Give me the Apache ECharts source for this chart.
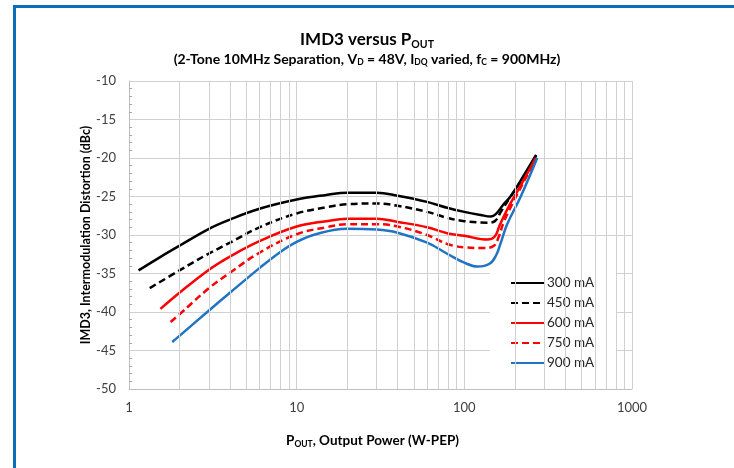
<!DOCTYPE html>
<html>
<head>
<meta charset="utf-8">
<script src="https://cdn.jsdelivr.net/npm/echarts@6/dist/echarts.min.js"></script>
<style>
  html, body { margin: 0; padding: 0; background: #fff; }
  #chart { width: 734px; height: 468px; }
</style>
</head>
<body>
<div id="chart"></div>
<script>
// IMD3 (dBc) against output power (W-PEP) for five quiescent currents
const seriesNames = ['300 mA', '450 mA', '600 mA', '750 mA', '900 mA'];

const imd300 = [[1.14,-34.6],[1.5,-33.0],[2,-31.4],[3,-29.2],[4,-28.0],[6,-26.6],[10,-25.4],[15,-24.8],[20,-24.5],[30,-24.5],[40,-24.9],[60,-25.7],[80,-26.5],[100,-27.0],[125,-27.4],[144,-27.6],[154,-27.3],[170,-26.1],[190,-24.9],[230,-22.0],[268,-19.6]];
const imd450 = [[1.33,-36.9],[2,-34.6],[3,-32.4],[4,-31.0],[6,-29.0],[10,-27.2],[15,-26.4],[20,-26.0],[30,-25.9],[40,-26.2],[60,-27.0],[80,-27.8],[100,-28.2],[137,-28.4],[152,-28.2],[165,-27.0],[185,-25.3],[230,-22.2],[268,-19.7]];
const imd600 = [[1.54,-39.6],[2,-37.5],[3,-34.5],[4,-32.8],[6,-30.8],[10,-28.9],[15,-28.2],[20,-27.9],[30,-27.9],[40,-28.3],[60,-29.0],[80,-29.8],[100,-30.1],[137,-30.6],[152,-30.2],[162,-28.8],[180,-26.7],[205,-24.5],[235,-22.2],[266,-20.0]];
const imd750 = [[1.77,-41.3],[2,-40.3],[3,-36.9],[4,-34.9],[6,-32.3],[10,-29.9],[15,-29.0],[20,-28.6],[30,-28.6],[40,-28.9],[60,-30.0],[80,-31.2],[100,-31.6],[131,-31.7],[150,-31.4],[160,-30.3],[172,-28.3],[195,-25.8],[235,-22.4],[268,-20.0]];
const imd900 = [[1.81,-43.9],[2,-43.1],[3,-39.8],[4,-37.5],[6,-34.3],[8,-32.2],[10,-30.9],[13,-29.9],[20,-29.2],[30,-29.3],[40,-29.7],[60,-31.0],[80,-32.5],[100,-33.6],[120,-34.1],[142,-33.7],[155,-32.6],[165,-31.0],[180,-28.6],[217,-25.0],[272,-20.0]];

const seriesValues = [imd300, imd450, imd600, imd750, imd900];
const seriesColors = ['#000000', '#000000', '#ff0000', '#ff0000', '#1f74c4'];
const seriesDashed = [false, true, false, true, false];

// minor log grid positions (2..9 in each decade)
const minorGridX = [2,3,4,5,6,7,8,9,20,30,40,50,60,70,80,90,200,300,400,500,600,700,800,900];

const xTicks = [1, 10, 100, 1000];
const yMin = -50, yMax = -10, yStep = 5;

const FONT = 'Lato';
const GRID_COLOR = '#d0d0d0';

const chart = echarts.init(document.getElementById('chart'), null, { renderer: 'canvas' });

const lineSeries = seriesNames.map((name, i) => ({
  name: name,
  type: 'line',
  data: seriesValues[i],
  smooth: 0.4,
  symbol: 'none',
  z: 3,
  lineStyle: {
    color: seriesColors[i],
    width: 2.5,
    type: seriesDashed[i] ? [7, 4] : 'solid'
  },
  itemStyle: { color: seriesColors[i] }
}));

const subStyle = (size) => ({
  fontFamily: FONT, fontSize: size, fontWeight: 'bold', color: '#000',
  lineHeight: Math.round(size + 1), verticalAlign: 'bottom'
});

const option = {
  animation: false,
  backgroundColor: '#ffffff',
  textStyle: { fontFamily: FONT },
  title: [
    {
      text: '{t|IMD3 versus P}{s|OUT}',
      left: 'center',
      top: 30,
      padding: 0,
      textStyle: {
        rich: {
          t: { fontFamily: FONT, fontSize: 17, fontWeight: 'bold', color: '#000', lineHeight: 20 },
          s: subStyle(10.5)
        }
      }
    },
    {
      text: '(2-Tone 10MHz Separation, V{s|D} = 48V, I{s|DQ} varied, f{s|C} = 900MHz)',
      left: 'center',
      top: 51,
      padding: 0,
      textStyle: {
        fontFamily: FONT, fontSize: 14, fontWeight: 'bold', color: '#000', lineHeight: 16,
        rich: { s: subStyle(8.5) }
      }
    }
  ],
  legend: {
    data: seriesNames,
    orient: 'vertical',
    left: 490,
    top: 268,
    padding: [8, 22, 8, 20],
    itemGap: 6,
    itemWidth: 33,
    itemHeight: 14,
    backgroundColor: '#ffffff',
    itemStyle: { opacity: 0, color: 'rgba(0,0,0,0)', borderWidth: 0 },
    textStyle: { fontFamily: FONT, fontSize: 13.5, color: '#262626', padding: [0, 0, 0, -2] },
    selectedMode: false
  },
  grid: { left: 129, right: 102, top: 81, bottom: 79, containLabel: false },
  xAxis: {
    type: 'log',
    logBase: 10,
    min: xTicks[0],
    max: xTicks[xTicks.length - 1],
    name: 'P{s|OUT}, Output Power (W-PEP)',
    nameLocation: 'middle',
    nameGap: 44,
    nameMoveOverlap: false,
    nameTextStyle: {
      fontFamily: FONT, fontSize: 13.5, fontWeight: 'bold', color: '#000', lineHeight: 16,
      padding: [0, 16, 0, 0],
      rich: { s: subStyle(8.5) }
    },
    axisLine: { show: true, lineStyle: { color: '#bfbfbf', width: 1 } },
    axisTick: { show: false },
    axisLabel: { fontFamily: FONT, fontSize: 13, color: '#404040', margin: 12, formatter: v => String(v) },
    splitLine: { show: true, lineStyle: { color: GRID_COLOR, width: 1 } }
  },
  yAxis: {
    type: 'value',
    min: yMin,
    max: yMax,
    interval: yStep,
    name: 'IMD3, Intermodulation Distortion (dBc)',
    nameLocation: 'middle',
    nameGap: 37,
    nameMoveOverlap: false,
    nameTextStyle: { fontFamily: FONT, fontSize: 12.5, fontWeight: 'bold', color: '#000' },
    axisLine: { show: true, lineStyle: { color: '#bfbfbf', width: 1 } },
    axisTick: { show: false, inside: true },
    minorTick: { show: true, splitNumber: 5, length: 3, lineStyle: { color: '#a6a6a6' } },
    axisLabel: { fontFamily: FONT, fontSize: 13, color: '#404040', margin: 13 },
    splitLine: { show: true, lineStyle: { color: GRID_COLOR, width: 1 } }
  },
  series: [
    {
      name: 'minor-grid',
      type: 'line',
      data: [],
      silent: true,
      z: 1,
      markLine: {
        silent: true,
        symbol: ['none', 'none'],
        label: { show: false },
        lineStyle: { color: GRID_COLOR, width: 1, type: 'solid' },
        emphasis: { disabled: true },
        data: minorGridX.map(v => ({ xAxis: v }))
      }
    }
  ].concat(lineSeries),
  graphic: [
    { type: 'rect', left: 13, top: 5, shape: { width: 721, height: 3 }, style: { fill: '#0a6fb7' }, z: 10 },
    { type: 'rect', left: 13, top: 5, shape: { width: 3, height: 463 }, style: { fill: '#0a6fb7' }, z: 10 }
  ]
};

chart.setOption(option);
</script>
</body>
</html>
